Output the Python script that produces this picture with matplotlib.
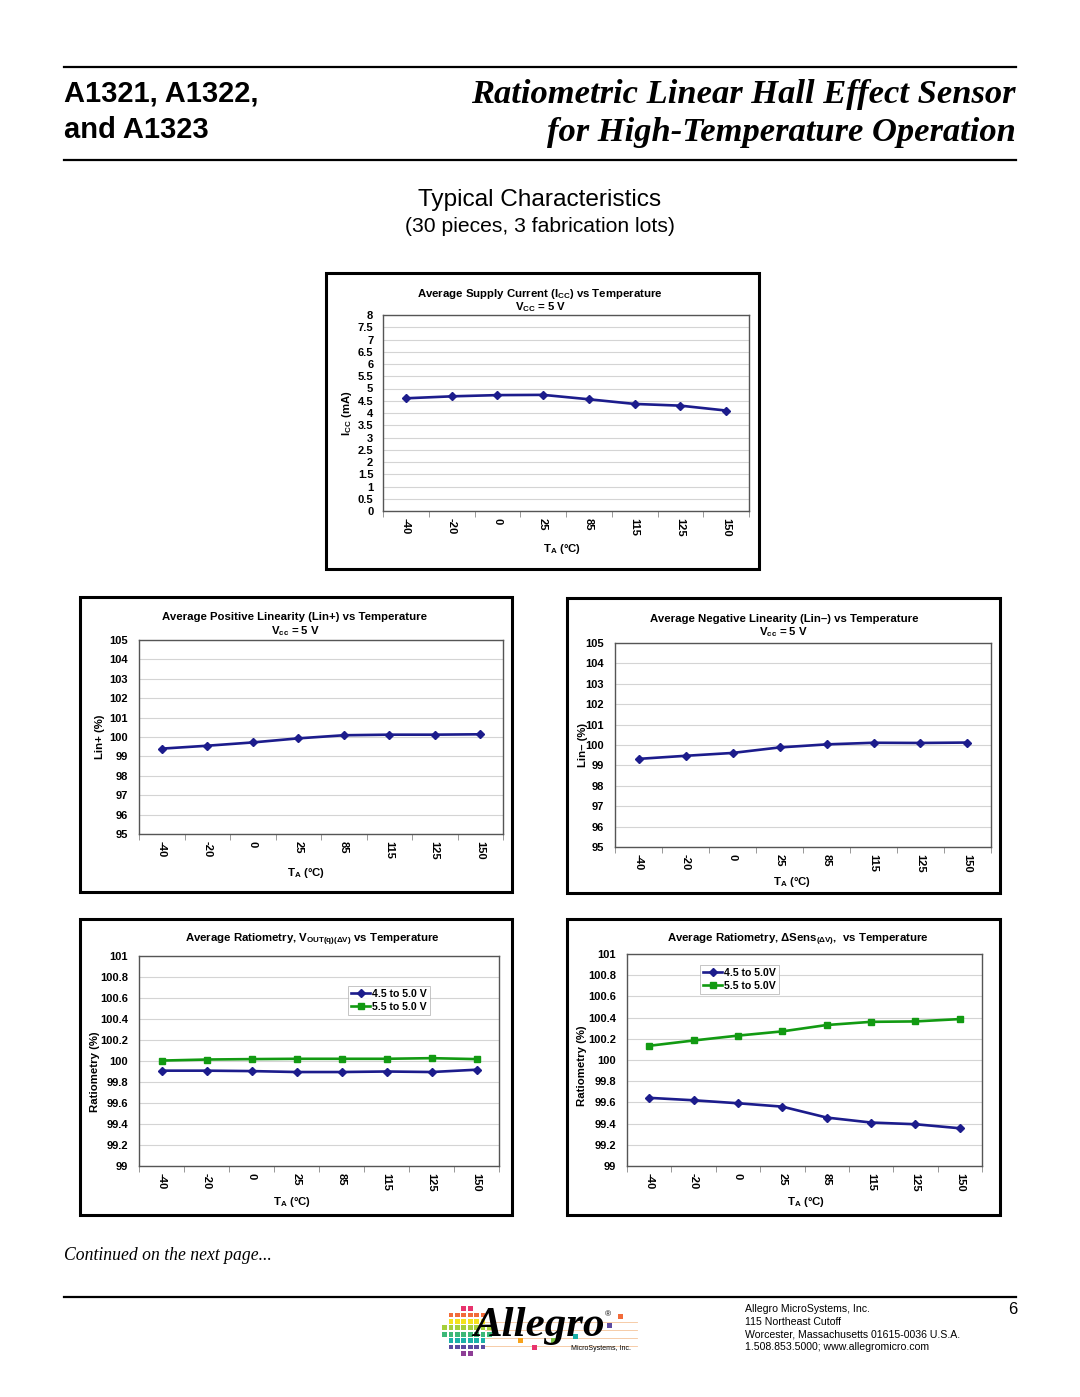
import matplotlib
matplotlib.use("Agg")
import matplotlib.pyplot as plt
from matplotlib.patches import Rectangle
import numpy as np

plt.rcParams['font.family'] = ['Liberation Sans', 'DejaVu Sans']
plt.rcParams['mathtext.fontset'] = 'custom'
plt.rcParams['mathtext.rm'] = 'Liberation Sans:bold'
plt.rcParams['mathtext.it'] = 'Liberation Sans:bold'
plt.rcParams['mathtext.bf'] = 'Liberation Sans:bold'

# ---------------- data ----------------
temps = ["-40", "-20", "0", "25", "85", "115", "125", "150"]

icc = [4.60, 4.68, 4.73, 4.74, 4.56, 4.37, 4.30, 4.10]
lin_pos = [99.40, 99.55, 99.72, 99.93, 100.09, 100.12, 100.12, 100.14]
lin_neg = [99.32, 99.47, 99.61, 99.88, 100.03, 100.11, 100.10, 100.12]
ratio_vout_45 = [99.908, 99.908, 99.904, 99.895, 99.895, 99.900, 99.895, 99.917]
ratio_vout_55 = [100.004, 100.014, 100.018, 100.021, 100.021, 100.021, 100.027, 100.018]
ratio_sens_45 = [99.643, 99.620, 99.592, 99.560, 99.457, 99.410, 99.394, 99.356]
ratio_sens_55 = [100.134, 100.184, 100.230, 100.270, 100.330, 100.360, 100.364, 100.386]

W, H = 1080, 1397
fig = plt.figure(figsize=(W / 100, H / 100), dpi=100)
fig.patch.set_facecolor('white')

ov = fig.add_axes([0, 0, 1, 1])
ov.set_xlim(0, W)
ov.set_ylim(H, 0)
ov.axis('off')
ov.set_zorder(0)

BLUE = '#1c1c8c'
GREEN = '#129a12'
TS = 8.2   # chart title size
TK = 8.0   # tick label size


def px_axes(x0, y0, x1, y1):
    return fig.add_axes([x0 / W, (H - y1) / H, (x1 - x0) / W, (y1 - y0) / H])


def style_axes(ax, ylim, yticks, yfmt, ypad=7):
    ax.set_zorder(2)
    ax.set_xlim(-0.5, len(temps) - 0.5)
    ax.set_ylim(*ylim)
    ax.set_yticks(yticks)
    ax.set_yticklabels([yfmt(v) for v in yticks])
    ax.set_xticks(range(len(temps)))
    ax.set_xticklabels(temps, rotation=270)
    ax.set_xticks(np.arange(-0.5, len(temps), 1.0), minor=True)
    ax.tick_params(axis='x', which='major', length=0, pad=5, labelsize=TK)
    ax.tick_params(axis='x', which='minor', length=4, direction='out', color='#888888')
    ax.tick_params(axis='y', length=0, pad=ypad, labelsize=TK)
    for lab in ax.get_xticklabels() + ax.get_yticklabels():
        lab.set_fontweight('bold')
    ax.grid(axis='y', color='#d4d4d4', lw=0.8)
    ax.set_axisbelow(True)
    for s in ax.spines.values():
        s.set_color('#555555')
        s.set_linewidth(1.0)


def outer_box(x0, y0, x1, y1):
    ov.add_patch(Rectangle((x0, y0), x1 - x0, y1 - y0, fill=False, ec='black', lw=2.2))


def fmt_gen(v):
    s = ('%.1f' % v)
    return s[:-2] if s.endswith('.0') else s


def fmt_int(v):
    return '%d' % round(v)


def add_legend(ax, x_frac, y_frac):
    leg = ax.legend(loc='upper left', bbox_to_anchor=(x_frac, y_frac),
                    frameon=True, fancybox=False, edgecolor='#aaaaaa',
                    handlelength=1.8, handletextpad=0.2, borderpad=0.3, labelspacing=0.25,
                    borderaxespad=0, prop={'weight': 'bold', 'size': 7.6})
    leg.get_frame().set_linewidth(0.6)
    return leg


# ---------------- header ----------------
ov.plot([64, 1016], [67, 67], color='black', lw=1.6)
ov.plot([64, 1016], [160, 160], color='black', lw=1.6)
ov.text(64, 94, "A1321, A1322,", fontsize=21, fontweight='bold', va='center', ha='left')
ov.text(64, 130, "and A1323", fontsize=21, fontweight='bold', va='center', ha='left')
ov.text(1016, 94, "Ratiometric Linear Hall Effect Sensor", fontsize=24.8, family='Liberation Serif',
        fontweight='bold', style='italic', va='center', ha='right')
ov.text(1016, 132, "for High-Temperature Operation", fontsize=24.8, family='Liberation Serif',
        fontweight='bold', style='italic', va='center', ha='right')
ov.text(540, 200, "Typical Characteristics", fontsize=17.6, ha='center', va='center')
ov.text(540, 226, "(30 pieces, 3 fabrication lots)", fontsize=15.2, ha='center', va='center')

# ---------------- chart 1: ICC ----------------
outer_box(326, 273, 759, 569)
ax1 = px_axes(383, 315, 749, 511)
style_axes(ax1, (0, 8), np.arange(0, 8.01, 0.5), fmt_gen, ypad=7)
ax1.plot(range(len(temps)), icc, color=BLUE, lw=1.9, marker='D', ms=3.6)
ov.text(540, 294, "Average Supply Current (I$_{\\mathrm{CC}}$) vs Temperature", fontsize=TS,
        fontweight='bold', ha='center', va='center')
ov.text(541, 307, "V$_{\\mathrm{CC}}$ = 5 V", fontsize=TS, fontweight='bold', ha='center', va='center')
ov.text(347, 413, "I$_{\\mathrm{CC}}$ (mA)", fontsize=TS, fontweight='bold', rotation=90,
        ha='center', va='center')
ov.text(562, 549, "T$_{\\mathrm{A}}$ (°C)", fontsize=TS, fontweight='bold', ha='center', va='center')

# ---------------- chart 2: Lin+ ----------------
outer_box(80, 597, 512, 892)
ax2 = px_axes(139, 640, 503, 834)
style_axes(ax2, (95, 105), np.arange(95, 105.1, 1), fmt_int, ypad=8)
ax2.plot(range(len(temps)), lin_pos, color=BLUE, lw=1.9, marker='D', ms=3.6)
ov.text(295, 617, "Average Positive Linearity (Lin+) vs Temperature", fontsize=TS,
        fontweight='bold', ha='center', va='center')
ov.text(295, 631, "V$_{\\mathrm{cc}}$ = 5 V", fontsize=TS, fontweight='bold', ha='center', va='center')
ov.text(100, 737, "Lin+ (%)", fontsize=TS, fontweight='bold', rotation=90, ha='center', va='center')
ov.text(306, 873, "T$_{\\mathrm{A}}$ (°C)", fontsize=TS, fontweight='bold', ha='center', va='center')

# ---------------- chart 3: Lin- ----------------
outer_box(567, 598, 1000, 893)
ax3 = px_axes(615, 643, 991, 847)
style_axes(ax3, (95, 105), np.arange(95, 105.1, 1), fmt_int, ypad=8)
ax3.plot(range(len(temps)), lin_neg, color=BLUE, lw=1.9, marker='D', ms=3.6)
ov.text(784, 619, "Average Negative Linearity (Lin–) vs Temperature", fontsize=TS,
        fontweight='bold', ha='center', va='center')
ov.text(783, 632, "V$_{\\mathrm{cc}}$ = 5 V", fontsize=TS, fontweight='bold', ha='center', va='center')
ov.text(583, 745, "Lin– (%)", fontsize=TS, fontweight='bold', rotation=90, ha='center', va='center')
ov.text(792, 882, "T$_{\\mathrm{A}}$ (°C)", fontsize=TS, fontweight='bold', ha='center', va='center')

# ---------------- chart 4: Ratiometry VOUT ----------------
outer_box(80, 919, 512, 1215)
ax4 = px_axes(139, 956, 499, 1166)
style_axes(ax4, (99, 101), np.arange(99, 101.01, 0.2), fmt_gen, ypad=8)
ax4.plot(range(len(temps)), ratio_vout_45, color=BLUE, lw=1.9, marker='D', ms=3.6, label='4.5 to 5.0 V')
ax4.plot(range(len(temps)), ratio_vout_55, color=GREEN, lw=1.9, marker='s', ms=4.2, label='5.5 to 5.0 V')
add_legend(ax4, (348 - 139) / 360, 1 - (986 - 956) / 210)
ov.text(312, 940, "Average Ratiometry, V$_{\\mathrm{OUT(q)(ΔV)}}$ vs Temperature", fontsize=TS,
        fontweight='bold', ha='center', va='center')
ov.text(95, 1072, "Ratiometry (%)", fontsize=TS, fontweight='bold', rotation=90, ha='center', va='center')
ov.text(292, 1202, "T$_{\\mathrm{A}}$ (°C)", fontsize=TS, fontweight='bold', ha='center', va='center')

# ---------------- chart 5: Ratiometry Sens ----------------
outer_box(567, 919, 1000, 1215)
ax5 = px_axes(627, 954, 982, 1166)
style_axes(ax5, (99, 101), np.arange(99, 101.01, 0.2), fmt_gen, ypad=8)
ax5.plot(range(len(temps)), ratio_sens_45, color=BLUE, lw=1.9, marker='D', ms=3.6, label='4.5 to 5.0V')
ax5.plot(range(len(temps)), ratio_sens_55, color=GREEN, lw=1.9, marker='s', ms=4.2, label='5.5 to 5.0V')
add_legend(ax5, (700 - 627) / 355, 1 - (965 - 954) / 212)
ov.text(798, 940, "Average Ratiometry, ΔSens$_{\\mathrm{(ΔV)}}$,  vs Temperature", fontsize=TS,
        fontweight='bold', ha='center', va='center')
ov.text(582, 1066, "Ratiometry (%)", fontsize=TS, fontweight='bold', rotation=90, ha='center', va='center')
ov.text(806, 1202, "T$_{\\mathrm{A}}$ (°C)", fontsize=TS, fontweight='bold', ha='center', va='center')

# ---------------- footer ----------------
ov.text(64, 1256, "Continued on the next page...", fontsize=12.7, family='Liberation Serif',
        style='italic', ha='left', va='center')
ov.plot([64, 1016], [1297, 1297], color='black', lw=1.6)

# logo: colour-square disc (rainbow from top to bottom)
cx, cy, r = 467, 1331, 26
cols = ['#e8336d', '#f26b3a', '#f7a21b', '#f4e21c', '#a6cf3b', '#3cb878', '#1bb0a8',
        '#2b7cc3', '#5b4aa0', '#8e3e96']
step = 6.4
n = 5
for i in range(-n, n):
    for j in range(-n, n):
        x = cx + i * step + step / 2
        y = cy + j * step + step / 2
        if (x - cx) ** 2 + (y - cy) ** 2 <= (r - 2) ** 2:
            k = int((y - (cy - r)) / (2 * r) * len(cols))
            c = cols[max(0, min(k, len(cols) - 1))]
            ov.add_patch(Rectangle((x - step * 0.36, y - step * 0.36), step * 0.72, step * 0.72,
                                   color=c, lw=0, zorder=1))
for yy in (1322, 1330, 1338, 1346):
    ov.plot([485, 637], [yy, yy], color='#f5c49a', lw=0.6, zorder=1)
for (sx, sy, sc) in [(620, 1316, '#f26b3a'), (609, 1325, '#5b4aa0'), (520, 1340, '#f7a21b'),
                     (534, 1347, '#e8336d'), (553, 1340, '#7cc242'), (575, 1336, '#1bb0a8')]:
    ov.add_patch(Rectangle((sx - 2.5, sy - 2.5), 5, 5, color=sc, lw=0, zorder=2))
ov.text(539, 1326, "Allegro", fontsize=31, family='Liberation Serif', fontweight='bold',
        style='italic', ha='center', va='center', zorder=3)
ov.text(605, 1315, "®", fontsize=6, ha='left', va='center', zorder=3)
ov.text(601, 1348, "MicroSystems, Inc.", fontsize=5, ha='center', va='center', zorder=3)

addr = ["Allegro MicroSystems, Inc.", "115 Northeast Cutoff",
        "Worcester, Massachusetts 01615-0036 U.S.A.", "1.508.853.5000; www.allegromicro.com"]
for k, line in enumerate(addr):
    ov.text(745, 1309 + k * 12.7, line, fontsize=7.6, ha='left', va='center')
ov.text(1017, 1309, "6", fontsize=12, ha='right', va='center')

fig.savefig('out.png', dpi=100, facecolor='white')
